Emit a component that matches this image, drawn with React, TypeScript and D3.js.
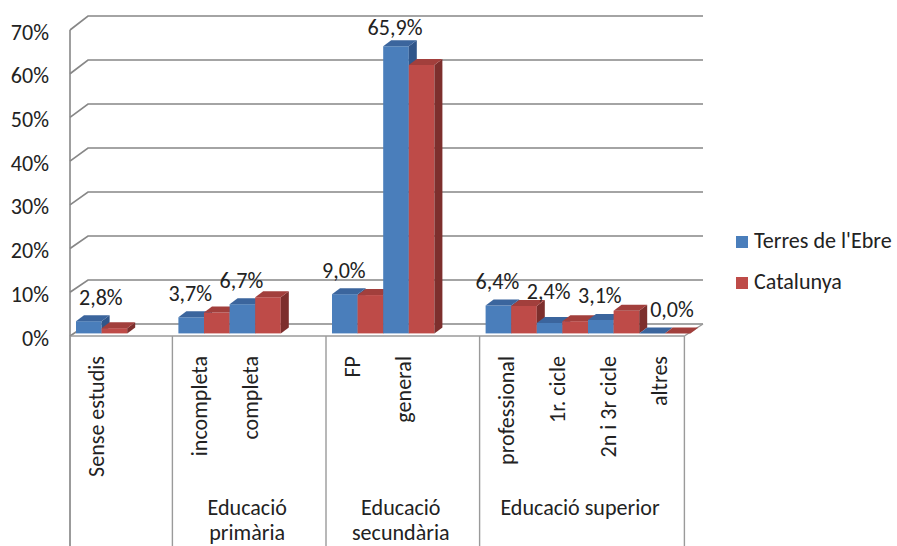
import React, { useMemo } from "react";
import * as d3 from "d3";

// ---- data ----
const categories = ["Sense estudis", "incompleta", "completa", "FP", "general", "professional", "1r. cicle", "2n i 3r cicle", "altres"];
const groupNames = ["", "Educació\nprimària", "Educació\nsecundària", "Educació superior"];
const groupSizes = [1, 2, 2, 4];
const seriesNames = ["Terres de l'Ebre", "Catalunya"];
const terresEbre = [2.8, 3.7, 6.7, 9.0, 65.9, 6.4, 2.4, 3.1, 0.0];
const catalunya = [1.2, 4.8, 8.3, 8.8, 61.6, 6.3, 2.8, 5.2, 0.0];
const yTicks = [0, 10, 20, 30, 40, 50, 60, 70];

const FONT = "Carlito, Calibri, Lato, 'Open Sans', sans-serif";
const COLORS = [
  { front: "#4a7ebb", top: "#3b659d", side: "#30568a" },
  { front: "#be4b48", top: "#a23f3c", side: "#7d2f2d" },
];

let ctx: CanvasRenderingContext2D | null = null;
function measure(text: string, size: number) {
  if (!ctx) ctx = document.createElement("canvas").getContext("2d");
  if (!ctx) return text.length * size * 0.5;
  ctx.font = `${size}px ${FONT}`;
  return ctx.measureText(text).width;
}

const fmt = (v: number) => d3.format(".1f")(v).replace(".", ",") + "%";

export default function App() {
  const W = 897, H = 546;
  const fs = useMemo(() => 20 * 121 / measure("Sense estudis", 20), []);

  // slots: each group's categories followed by one blank (except last group)
  const slots: { id: string; cat: number | null }[] = [];
  const groupRanges: { start: number; end: number }[] = [];
  let ci = 0;
  groupSizes.forEach((n, g) => {
    const start = slots.length;
    for (let k = 0; k < n; k++) { slots.push({ id: "c" + ci, cat: ci }); ci++; }
    if (g < groupSizes.length - 1) slots.push({ id: "b" + g, cat: null });
    groupRanges.push({ start, end: slots.length });
  });

  const frontL = 70, frontR = 684.4, backDx = 18;
  const x = d3.scaleBand<string>().domain(slots.map(s => s.id)).range([frontL, frontR]).padding(0);
  const bw = x.bandwidth() / 2;
  const yFront = d3.scaleLinear().domain([0, 70]).range([336, 30]);
  const yBack = d3.scaleLinear().domain([0, 70]).range([324, 16]);
  const yBar = d3.scaleLinear().domain([0, 70]).range([333.4, 28.4]);
  const yLabel = d3.scaleLinear().domain([0, 70]).range([316.7, 17.5]);
  const barShift = 6, dDx = 8, dDy = -6;
  const series = [terresEbre, catalunya];

  const barX = (cat: number, s: number) => (x("c" + cat) as number) + barShift + s * bw;

  const bars: JSX.Element[] = [];
  categories.forEach((_, i) => {
    series.forEach((vals, s) => {
      const x0 = barX(i, s);
      const yt = yBar(vals[i]);
      const yb = yBar(0);
      const c = COLORS[s];
      bars.push(
        <g key={`b${i}-${s}`}>
          <rect x={x0} y={yt} width={bw} height={yb - yt} fill={c.front} />
          <polygon points={`${x0 + bw},${yt} ${x0 + bw + dDx},${yt + dDy} ${x0 + bw + dDx},${yb + dDy} ${x0 + bw},${yb}`} fill={c.side} />
          <polygon points={`${x0},${yt} ${x0 + bw},${yt} ${x0 + bw + dDx},${yt + dDy} ${x0 + dDx},${yt + dDy}`} fill={c.top} />
        </g>
      );
    });
  });

  // data labels for first series
  const labels = categories.map((_, i) => {
    const v = terresEbre[i];
    const text = fmt(v);
    const tw = measure(text, fs);
    let cx = barX(i, 0) + bw / 2 - 1;
    let base = yLabel(v);
    if (cx - tw / 2 < frontL + 9) cx = frontL + 9 + tw / 2;
    const slotIdx = slots.findIndex(s => s.cat === i);
    const prev = slots[slotIdx - 1];
    if (prev && prev.cat !== null) {
      const px0 = barX(prev.cat, 1);
      const pRight = px0 + bw + dDx;
      const pTop = yBar(catalunya[prev.cat]);
      if (cx - tw / 2 < pRight) {
        if (base > pTop + 2) cx = pRight + 3 + tw / 2;
        else if (base > pTop + dDy) base = pTop + dDy - 1;
      }
    }
    return <text key={"l" + i} x={cx} y={base} textAnchor="middle">{text}</text>;
  });

  const gridColor = "#878787";
  const boxColor = "#9a9a9a";
  const boxBottom = H;
  const dividers = [frontL, ...groupRanges.slice(1).map(r => x(slots[r.start].id) as number), frontR];

  return (
    <svg width={W} height={H} style={{ position: "absolute", left: 0, top: 0, background: "#fff" }}
      fontFamily={FONT} fontSize={fs} fill="#222">
      {/* walls / gridlines */}
      {yTicks.map(v => (
        <polyline key={"g" + v} fill="none" stroke={gridColor} strokeWidth={1.7}
          points={`${frontL},${yFront(v)} ${frontL + backDx},${yBack(v)} ${frontR + backDx + 0.6},${yBack(v)}`} />
      ))}
      {/* floor */}
      <line x1={frontL} x2={frontR} y1={yFront(0)} y2={yFront(0)} stroke={boxColor} strokeWidth={1.4} />
      <line x1={frontR} x2={frontR + backDx + 0.6} y1={yFront(0)} y2={yBack(0)} stroke={boxColor} strokeWidth={1.4} />
      {/* vertical axis line */}
      <line x1={frontL} x2={frontL} y1={yFront(70)} y2={boxBottom} stroke={gridColor} strokeWidth={1.6} />
      {/* y tick labels */}
      {yTicks.map(v => (
        <text key={"t" + v} x={49} y={yFront(v) + 2} textAnchor="end" dominantBaseline="central">{v}%</text>
      ))}
      {bars}
      {labels}
      {/* category box dividers */}
      {dividers.map((dx, k) => (
        <line key={"d" + k} x1={dx} x2={dx} y1={yFront(0)} y2={boxBottom} stroke={boxColor} strokeWidth={1.4} />
      ))}
      {/* category labels */}
      {categories.map((c, i) => {
        const cx = (x("c" + i) as number) + x.bandwidth() / 2 + 1;
        return (
          <text key={"c" + i} transform={`translate(${cx},356) rotate(-90)`} textAnchor="end" dominantBaseline="central">{c}</text>
        );
      })}
      {/* group labels */}
      {groupNames.map((g, k) => {
        const r = groupRanges[k];
        const x0 = x(slots[r.start].id) as number;
        const x1 = r.end >= slots.length ? frontR : (x(slots[r.end].id) as number);
        const cx = (x0 + x1) / 2 - 2;
        return g.split("\n").map((line, j) => (
          <text key={`gn${k}-${j}`} x={cx} y={515 + j * 25} textAnchor="middle">{line}</text>
        ));
      })}
      {/* legend */}
      {seriesNames.map((n, s) => (
        <g key={"lg" + s} transform={`translate(736,${236 + s * 41})`}>
          <rect x={0} y={0} width={12} height={12} fill={COLORS[s].front} />
          <text x={18} y={12}>{n}</text>
        </g>
      ))}
    </svg>
  );
}
